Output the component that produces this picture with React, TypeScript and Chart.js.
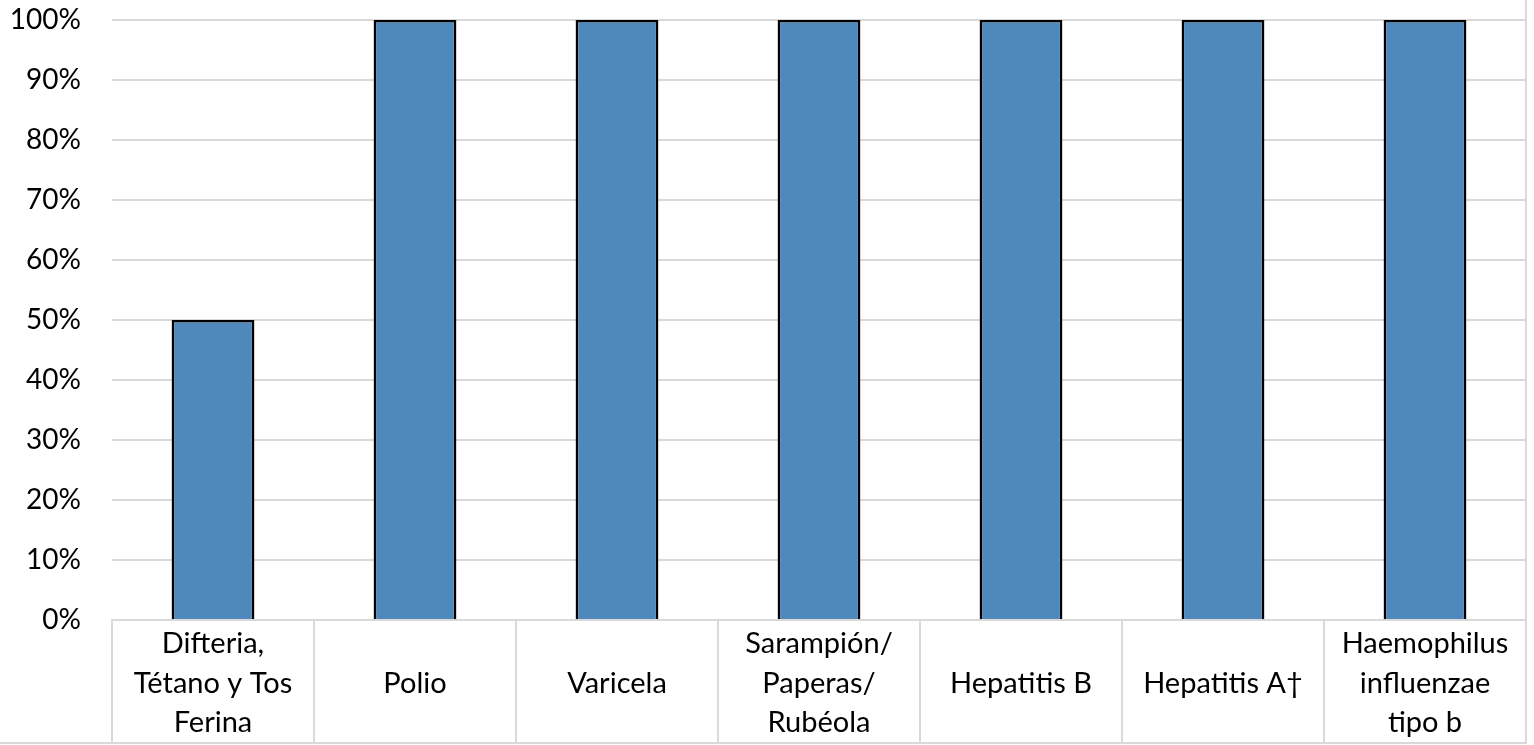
import React, { useEffect, useRef } from "react";
import { Chart, registerables } from "chart.js";

Chart.register(...registerables);

const categories: string[][] = [
  ["Difteria,", "Tétano y Tos", "Ferina"],
  ["Polio"],
  ["Varicela"],
  ["Sarampión/", "Paperas/", "Rubéola"],
  ["Hepatitis B"],
  ["Hepatitis A†"],
  ["Haemophilus", "influenzae", "tipo b"],
];

const values: number[] = [50, 100, 100, 100, 100, 100, 100];

const yTicks: number[] = [0, 10, 20, 30, 40, 50, 60, 70, 80, 90, 100];

const FONT = "Lato";
const GRID = "#d9d9d9";

const framePlugin = {
  id: "frame",
  afterDraw(chart: any) {
    const { ctx, chartArea } = chart;
    const xs = chart.scales.x;
    ctx.save();
    ctx.strokeStyle = GRID;
    ctx.lineWidth = 2;
    ctx.beginPath();
    ctx.moveTo(0, xs.bottom - 1);
    ctx.lineTo(chartArea.right, xs.bottom - 1);
    ctx.moveTo(chartArea.right, 0);
    ctx.lineTo(chartArea.right, xs.bottom);
    ctx.stroke();
    ctx.restore();
  },
};

export default function App() {
  const ref = useRef<HTMLCanvasElement | null>(null);

  useEffect(() => {
    document.body.style.margin = "0";
    if (!ref.current) return;
    const chart = new Chart(ref.current, {
      type: "bar",
      data: {
        labels: categories,
        datasets: [
          {
            data: values,
            backgroundColor: "#4F89BC",
            borderColor: "#000000",
            borderWidth: 2.5,
            barPercentage: 0.41,
            categoryPercentage: 1,
            clip: false,
          } as any,
        ],
      },
      options: {
        responsive: false,
        animation: false,
        layout: { padding: { top: 20, right: 8, bottom: 1, left: 0 } },
        plugins: {
          legend: { display: false },
          tooltip: { enabled: false },
        },
        scales: {
          x: {
            offset: true,
            grid: {
              display: true,
              offset: true,
              drawOnChartArea: false,
              drawTicks: true,
              tickLength: 124,
              color: GRID,
              lineWidth: 2,
            },
            border: { display: true, color: GRID, width: 2 },
            ticks: {
              padding: -100,
              crossAlign: "center",
              maxRotation: 0,
              minRotation: 0,
              autoSkip: false,
              color: "#000",
              font: { family: FONT, size: 29, lineHeight: 39.5 / 29 },
            },
            afterFit(scale: any) {
              scale.height = 124;
            },
          },
          y: {
            min: 0,
            max: 100,
            afterBuildTicks(scale: any) {
              scale.ticks = yTicks.map((v) => ({ value: v }));
            },
            grid: { color: GRID, lineWidth: 2, drawTicks: false },
            border: { display: false },
            ticks: {
              padding: 31,
              color: "#000",
              font: { family: FONT, size: 28 },
              callback: (v: any) => v + "%",
            },
            afterFit(scale: any) {
              scale.width = 112;
              scale.paddingTop = 0;
              scale.paddingBottom = 0;
            },
          },
        },
      },
      plugins: [framePlugin],
    });
    return () => chart.destroy();
  }, []);

  return <canvas ref={ref} width={1534} height={745} />;
}
